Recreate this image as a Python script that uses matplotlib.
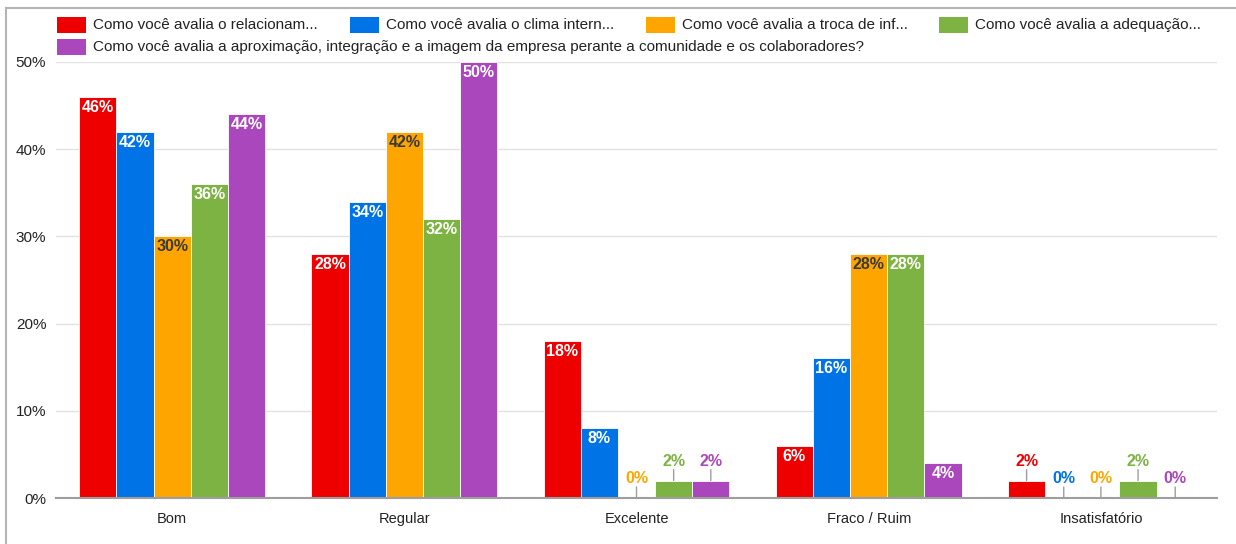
import matplotlib
matplotlib.use("Agg")
import matplotlib.pyplot as plt
from matplotlib.patches import Rectangle
from matplotlib.lines import Line2D
import numpy as np

categories = ["Bom", "Regular", "Excelente", "Fraco / Ruim", "Insatisfatório"]
series_labels = [
    "Como você avalia o relacionam...",
    "Como você avalia o clima intern...",
    "Como você avalia a troca de inf...",
    "Como você avalia a adequação...",
    "Como você avalia a aproximação, integração e a imagem da empresa perante a comunidade e os colaboradores?",
]
relacionamento = [46, 28, 18, 6, 2]
clima = [42, 34, 8, 16, 0]
troca_info = [30, 42, 0, 28, 0]
adequacao = [36, 32, 2, 28, 2]
aproximacao = [44, 50, 2, 4, 0]
series_values = [relacionamento, clima, troca_info, adequacao, aproximacao]
colors = ["#EE0000", "#0073E6", "#FFA500", "#7CB342", "#AB47BC"]
inside_text = ["white", "white", "#3a3a3a", "white", "white"]
yticks = [0, 10, 20, 30, 40, 50]

W, H = 1236, 544
fig = plt.figure(figsize=(W / 100, H / 100), dpi=100)
fig.patch.set_facecolor("white")

label_font = ["Liberation Sans Narrow", "Liberation Sans", "DejaVu Sans"]
text_font = ["Liberation Sans", "DejaVu Sans"]

ax = fig.add_axes([56 / W, (H - 498) / H, (1217 - 56) / W, (498 - 62) / H])
ax.set_xlim(-0.5, len(categories) - 0.5)
ax.set_ylim(0, 50)

x = np.arange(len(categories))
n = len(series_values)
group_w = 0.8
bw = group_w / n

for i, (vals, col) in enumerate(zip(series_values, colors)):
    pos = x - group_w / 2 + bw * (i + 0.5)
    for xp, v in zip(pos, vals):
        if v == 0:
            ax.bar(xp, 0.15, width=bw, color=col, edgecolor="none", zorder=3)
        else:
            ax.bar(xp, v, width=bw, color=col, edgecolor="white", linewidth=0.6, zorder=3)
        txt = f"{v}%"
        if v > 2:
            ax.annotate(txt, (xp, v), xytext=(0, -3), textcoords="offset pixels",
                        ha="center", va="top", color=inside_text[i],
                        fontsize=11.5, fontweight="bold", family=label_font, zorder=5)
        else:
            ax.annotate("", xy=(xp, v), xytext=(0, 11), textcoords="offset pixels",
                        arrowprops=dict(arrowstyle="-", color="#9e9e9e", lw=1,
                                        shrinkA=0, shrinkB=0), zorder=4)
            ax.annotate(txt, (xp, v), xytext=(0, 12), textcoords="offset pixels",
                        ha="center", va="bottom", color=col,
                        fontsize=11.5, fontweight="bold", family=label_font, zorder=5)

ax.set_yticks(yticks)
ax.set_yticklabels([f"{t}%" for t in yticks], family=text_font, fontsize=11, color="#222222")
ax.set_xticks(x)
ax.set_xticklabels(categories, family=text_font, fontsize=10.5, color="#222222")
ax.tick_params(axis="both", length=0)
ax.tick_params(axis="y", pad=7)
ax.tick_params(axis="x", pad=10)
for s in ["top", "right", "left"]:
    ax.spines[s].set_visible(False)
ax.spines["bottom"].set_color("#9e9e9e")
ax.spines["bottom"].set_linewidth(1.5)
ax.spines["bottom"].set_zorder(6)
ax.grid(axis="y", color="#e2e2e2", linewidth=1, zorder=0)
ax.set_axisbelow(True)

# legend drawn as two rows
legend_pos = [(57, 25), (350, 25), (646, 25), (939, 25), (57, 47)]
for (lx, ly), lab, col in zip(legend_pos, series_labels, colors):
    fig.patches.append(Rectangle((lx / W, (H - ly - 8) / H), 29 / W, 16 / H,
                                 transform=fig.transFigure, facecolor=col,
                                 edgecolor="none", figure=fig))
    fig.text((lx + 36) / W, (H - ly) / H, lab, ha="left", va="center",
             fontsize=11, family=text_font, color="#222222")

# frame border
fig.add_artist(Line2D([6 / W, 1], [(H - 8) / H, (H - 8) / H], transform=fig.transFigure,
                      color="#b5b5b5", lw=1.5))
fig.add_artist(Line2D([6 / W, 6 / W], [0, (H - 8) / H], transform=fig.transFigure,
                      color="#b5b5b5", lw=1.5))

fig.savefig("out.png", dpi=100, facecolor="white")
